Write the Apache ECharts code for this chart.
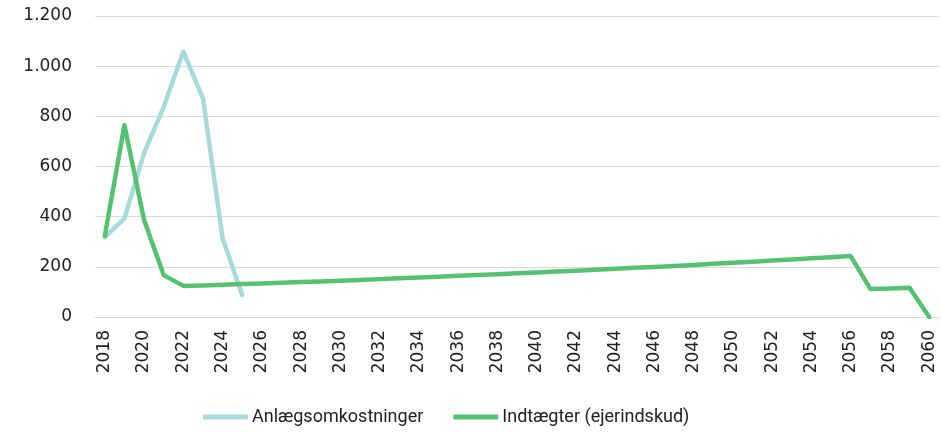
<!DOCTYPE html>
<html>
<head>
<meta charset="utf-8">
<script src="https://cdn.jsdelivr.net/npm/echarts@6/dist/echarts.min.js"></script>
<style>
html,body{margin:0;padding:0;background:#fff;}
#chart{width:941px;height:434px;}
</style>
</head>
<body>
<div id="chart"></div>
<script>
var years = [];
for (var y = 2018; y <= 2060; y++) years.push(String(y));

var anlaeg = [318, 393, 653, 838, 1058, 872, 314, 88];

var indtaegter = [323, 765, 387, 167,
  124,126,129,132,134,137,140,142,145,148,151,154,157,160,164,167,170,174,177,181,184,188,192,196,199,203,207,212,216,220,225,229,234,238,243,
  112, 114, 117, 0];

var seriesNames = ['Anlægsomkostninger', 'Indtægter (ejerindskud)'];

function fmt(v) {
  return String(v).replace(/\B(?=(\d{3})+(?!\d))/g, '.');
}

var chart = echarts.init(document.getElementById('chart'));
var fontFam = '"DejaVu Sans", sans-serif';
chart.setOption({
  animation: false,
  grid: {left: 95, right: 2, top: 16, bottom: 117},
  legend: {
    bottom: 3,
    left: 198,
    itemWidth: 45,
    itemHeight: 5,
    itemGap: 30,
    icon: 'roundRect',
    textStyle: {fontSize: 18, color: '#222', fontFamily: '"Roboto", "Noto Sans", sans-serif', padding: [0,0,0,-1]},
    data: seriesNames
  },
  xAxis: {
    type: 'category',
    data: years,
    boundaryGap: true,
    axisLine: {show: true, lineStyle: {color: '#d9d9d9', width: 1}},
    axisTick: {show: false},
    axisLabel: {rotate: 90, interval: 1, margin: 13, fontSize: 17, color: '#222', fontFamily: fontFam}
  },
  yAxis: {
    type: 'value',
    min: 0, max: 1200, interval: 200,
    axisLine: {show: false},
    axisTick: {show: false},
    splitLine: {lineStyle: {color: '#d9d9d9', width: 1}},
    axisLabel: {margin: 23, fontSize: 17, color: '#222', fontFamily: fontFam, formatter: fmt}
  },
  series: [
    {
      name: seriesNames[0], type: 'line', data: anlaeg, symbol: 'none',
      lineStyle: {width: 4.5, color: '#a8dadc', cap: 'round', join: 'round'},
      itemStyle: {color: '#a8dadc'}
    },
    {
      name: seriesNames[1], type: 'line', data: indtaegter, symbol: 'none',
      lineStyle: {width: 4.5, color: '#55c271', cap: 'round', join: 'round'},
      itemStyle: {color: '#55c271'}
    }
  ]
});
</script>
</body>
</html>
